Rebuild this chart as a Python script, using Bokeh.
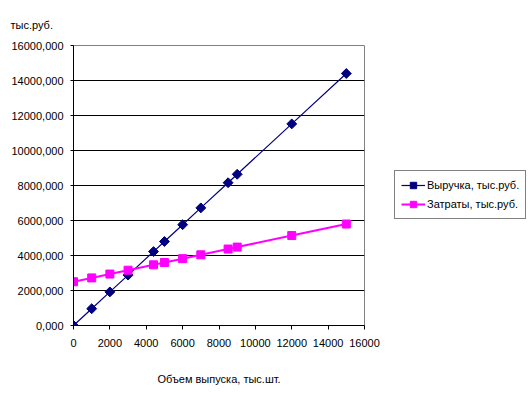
from bokeh.plotting import figure
from bokeh.models import (Range1d, SingleIntervalTicker, CustomJSTickFormatter,
                          Legend, LegendItem, Title)
from bokeh.embed import file_html
from bokeh.resources import INLINE

volume = [0, 1000, 2000, 3000, 4400, 5000, 6000, 7000, 8500, 9000, 12000, 15000]
revenue = [0, 960, 1920, 2880, 4224, 4800, 5760, 6720, 8160, 8640, 11520, 14400]
costs = [2500, 2720, 2940, 3160, 3468, 3600, 3820, 4040, 4370, 4480, 5140, 5800]
revenue_name = "Выручка, тыс.руб."
costs_name = "Затраты, тыс.руб."
x_title = "Объем выпуска, тыс.шт."
y_title = "тыс.руб."

FONT = "Liberation Sans"

p = figure(width=526, height=395, output_backend="svg", toolbar_location=None,
           x_range=Range1d(0, 16000), y_range=Range1d(0, 16000),
           min_border_left=73, min_border_right=162, min_border_top=45,
           min_border_bottom=70)
p.frame_width = 291
p.frame_height = 280

p.background_fill_color = "white"
p.border_fill_color = "white"
p.outline_line_color = "#808080"
p.outline_line_width = 1

# grid
p.xgrid.visible = False
p.ygrid.grid_line_color = "black"
p.ygrid.grid_line_width = 1

# axes
for ax in (p.xaxis[0], p.yaxis[0]):
    ax.axis_line_color = "black"
    ax.major_tick_line_color = "black"
    ax.minor_tick_line_color = None
    ax.major_tick_in = 0
    ax.major_label_text_font = FONT
    ax.major_label_text_font_size = "11px"
    ax.major_label_text_color = "black"

p.xaxis[0].ticker = SingleIntervalTicker(interval=2000, num_minor_ticks=0)
p.yaxis[0].ticker = SingleIntervalTicker(interval=2000, num_minor_ticks=0)
p.ygrid.ticker = SingleIntervalTicker(interval=2000, num_minor_ticks=0)
p.xaxis[0].major_tick_out = 4
p.yaxis[0].major_tick_out = 3
p.xaxis[0].major_label_standoff = 9
p.yaxis[0].major_label_standoff = 7
p.yaxis[0].formatter = CustomJSTickFormatter(
    code="return tick.toFixed(3).replace('.', ',');")
p.xaxis[0].formatter = CustomJSTickFormatter(code="return tick.toFixed(0);")

p.xaxis[0].axis_label = x_title
p.xaxis[0].axis_label_text_font = FONT
p.xaxis[0].axis_label_text_font_size = "11px"
p.xaxis[0].axis_label_text_font_style = "normal"
p.xaxis[0].axis_label_text_color = "black"
p.xaxis[0].axis_label_standoff = 23

# series
r_line = p.line(volume, revenue, line_color="#000080", line_width=1.2)
r_pts = p.scatter(volume, revenue, marker="square", angle=0.785398, size=7,
                  fill_color="#000080", line_color="#000080")
c_line = p.line(volume, costs, line_color="#FF00FF", line_width=2)
c_pts = p.scatter(volume, costs, marker="square", size=8,
                  fill_color="#FF00FF", line_color="#FF00FF")

# y-axis unit title at top-left
ttl = Title(text=y_title, align="left", offset=-63, standoff=30,
            text_font=FONT, text_font_size="11px", text_font_style="normal",
            text_color="black")
p.add_layout(ttl, "above")

legend = Legend(items=[LegendItem(label=revenue_name, renderers=[r_line, r_pts]),
                       LegendItem(label=costs_name, renderers=[c_line, c_pts])],
                location=(30, 106))
legend.label_text_font = FONT
legend.label_text_font_size = "11px"
legend.label_text_color = "black"
legend.border_line_color = "black"
legend.border_line_width = 1
legend.background_fill_color = "white"
legend.background_fill_alpha = 1
legend.padding = 6
legend.spacing = 3
legend.margin = 0
legend.glyph_width = 24
legend.glyph_height = 16
legend.label_standoff = 2
legend.label_height = 16
p.add_layout(legend, "right")

open("out.html", "w").write(file_html(p, INLINE))
